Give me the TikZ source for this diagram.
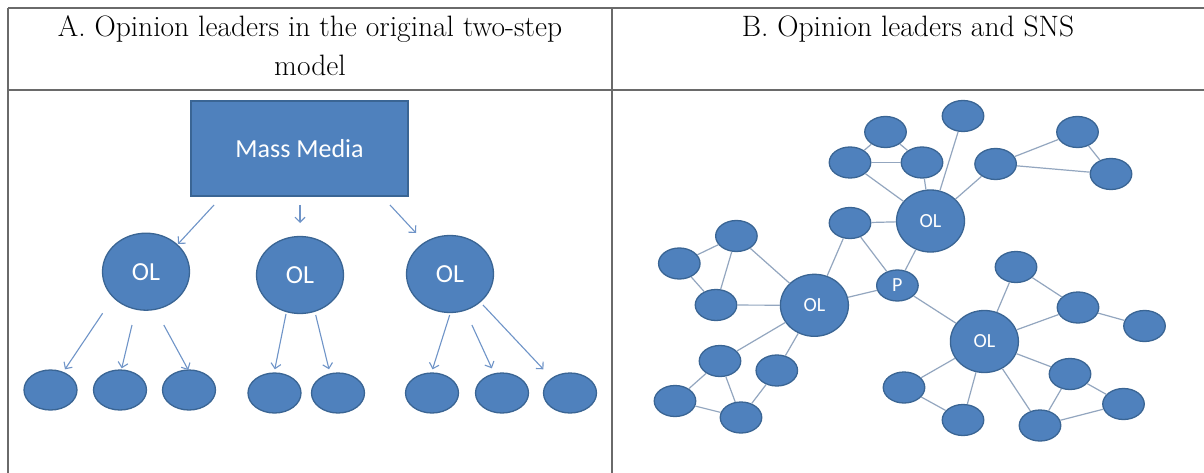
\documentclass[tikz,border=0pt]{standalone}
\usepackage{fontspec}
\newfontfamily\calib{Carlito}
\usetikzlibrary{arrows.meta,calc,shapes.geometric}
\definecolor{nodefill}{HTML}{4F81BD}
\definecolor{nodeedge}{HTML}{3A6594}
\definecolor{arrowcol}{HTML}{6F94C8}
\definecolor{linkcol}{HTML}{93A6BF}
\definecolor{rulecol}{HTML}{6A6A6A}
\begin{document}
\begin{tikzpicture}[x=1pt,y=-1pt,
  hdr/.style={font=\fontsize{29.5}{39}\selectfont, align=center, inner sep=0pt, text=black},
  rule/.style={draw=rulecol, line width=1.4pt},
  blob/.style={ellipse, fill=nodefill, draw=nodeedge, line width=1.3pt, inner sep=0pt, text=white},
  bigol/.style={blob, minimum width=87pt, minimum height=77pt, font=\calib\fontsize{26}{26}\selectfont},
  leaf/.style={blob, minimum width=53pt, minimum height=40pt},
  netol/.style={blob, minimum width=68pt, minimum height=62pt, font=\calib\fontsize{20}{20}\selectfont},
  dot/.style={blob, minimum width=41.5pt, minimum height=31pt, font=\calib\fontsize{20}{20}\selectfont},
  arr/.style={draw=arrowcol, line width=1.1pt, -{Straight Barb[length=5pt,width=10pt]}},
  link/.style={draw=linkcol, line width=1.2pt}]
\useasboundingbox (0,0) rectangle (1204,473);
\fill[white] (0,0) rectangle (1204,473);

% table rules
\coordinate (tl) at (8,8);
\coordinate (tr) at (1204,8);
\coordinate (ml) at (8,90);
\coordinate (mr) at (1204,90);
\coordinate (bl) at (8,473);
\coordinate (tm) at (612,8);
\coordinate (bm) at (612,473);
\draw[rule] (tl) -- (tr);
\draw[rule] (ml) -- (mr);
\draw[rule] (tl) -- (bl);
\draw[rule] (tm) -- (bm);

% headings (base anchor of a two-line node sits on its last line)
\node[hdr, anchor=base] (hA) at (310,76) {A. Opinion leaders in the original two-step\\model};
\node[hdr, anchor=base] (hB) at (908,37) {B. Opinion leaders and SNS};

% two-step model
\node[fill=nodefill, draw=nodeedge, line width=1.3pt, minimum width=217pt, minimum height=95pt,
      text=white, font=\calib\fontsize{26}{26}\selectfont] (mm) at (299.5,148.5) {Mass Media};
\node[bigol] (ol1) at (146,271.7) {OL};
\node[bigol] (ol2) at (300,275) {OL};
\node[bigol] (ol3) at (450,274) {OL};
\node[leaf] (b1) at (50.5,390) {};
\node[leaf] (b2) at (120,390) {};
\node[leaf] (b3) at (189,390) {};
\node[leaf] (b4) at (274.5,393) {};
\node[leaf] (b5) at (338,393) {};
\node[leaf] (b6) at (432,393) {};
\node[leaf] (b7) at (502,393) {};
\node[leaf] (b8) at (570,393) {};

\draw[arr] ($(mm)+(-85.5,56.5)$) -- ($(ol1)+(32,-27.7)$);
\draw[arr] ($(mm)+(0.5,56.5)$) -- ($(ol2)+(0,-52)$);
\draw[arr] ($(mm)+(90.5,56.5)$) -- ($(ol3)+(-34,-41)$);

\draw[arr] ($(ol1)+(-43.4,41.6)$) -- ($(b1)+(14.5,-20.7)$);
\draw[arr] ($(ol1)+(-14,53.3)$) -- ($(b2)+(1.7,-21.7)$);
\draw[arr] ($(ol1)+(17.8,53.3)$) -- ($(b3)+(-0.7,-20)$);
\draw[arr] ($(ol2)+(-14,39)$) -- ($(b4)+(0.3,-23.7)$);
\draw[arr] ($(ol2)+(15.7,40)$) -- ($(b5)+(-9,-23.7)$);
\draw[arr] ($(ol3)+(-0.3,41)$) -- ($(b6)+(0.5,-23.7)$);
\draw[arr] ($(ol3)+(21.9,51)$) -- ($(b7)+(-10.2,-24.7)$);
\draw[arr] ($(ol3)+(33,31)$) -- ($(b8)+(-26.6,-23.7)$);

% social network
\node[dot] (n1) at (885.5,132) {};
\node[dot] (n2) at (963,116) {};
\node[dot] (n3) at (850,162.5) {};
\node[dot] (n4) at (922,162.5) {};
\node[dot] (n5) at (995.6,164) {};
\node[dot] (n6) at (1077.5,132) {};
\node[dot] (n7) at (1111,174) {};
\node[netol] (olA) at (930.5,221) {OL};
\node[dot] (n8) at (850,223) {};
\node[dot] (n9) at (736.4,236) {};
\node[dot] (n10) at (679.3,263.5) {};
\node[dot] (p) at (897.4,285.5) {P};
\node[dot] (n11) at (1016,267) {};
\node[dot] (n12) at (716,305) {};
\node[netol] (olB) at (814.4,305.3) {OL};
\node[netol] (olC) at (984.4,341.5) {OL};
\node[dot] (n13) at (1078,307.5) {};
\node[dot] (n14) at (1144.5,326) {};
\node[dot] (n15) at (720,361) {};
\node[dot] (n16) at (776.8,370.5) {};
\node[dot] (n17) at (675,401) {};
\node[dot] (n18) at (741,417.5) {};
\node[dot] (n19) at (904,387.5) {};
\node[dot] (n20) at (963,420) {};
\node[dot] (n21) at (1040,425.5) {};
\node[dot] (n22) at (1070,374) {};
\node[dot] (n23) at (1123.5,404) {};

\foreach \a/\b in {n1/n3, n1/n4, n3/n4, n3/olA, n4/olA, n2/olA, n5/olA, n5/n6, n5/n7, n6/n7,
                   n8/olA, n8/olB, n8/p, olA/p, n9/n10, n9/n12, n9/olB, n10/n12, n12/olB,
                   olB/p, p/olC, olB/n15, olB/n16, n15/n17, n15/n18, n17/n18, n16/n18,
                   olC/n11, n11/n13, olC/n13, n13/n14, olC/n19, olC/n20, olC/n21, olC/n22,
                   n19/n20, n22/n21, n22/n23, n21/n23}
  \draw[link] (\a) -- (\b);
\end{tikzpicture}
\end{document}
